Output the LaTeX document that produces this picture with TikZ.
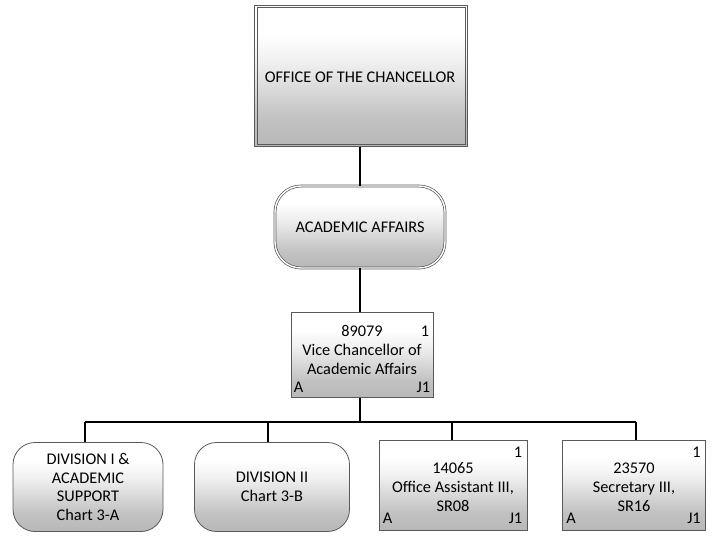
\documentclass[tikz,border=0pt]{standalone}
\usepackage{fontspec}
\setmainfont{Carlito}
\pgfdeclareverticalshading{boxgrey}{100bp}{color(0bp)=(black!38); color(35bp)=(black!24); color(55bp)=(black!6); color(65bp)=(white); color(100bp)=(white)}
\begin{document}
\begin{tikzpicture}[x=1pt,y=-1pt,
  every node/.style={font=\fontsize{16.3}{18.8}\selectfont, align=center, inner sep=0pt},
  boxbase/.style={shading=boxgrey, draw=black!65, line width=0.8pt},
  dblbox/.style={boxbase, double=white, double distance=1.4pt, line width=0.7pt},
  posbox/.style={boxbase},
  roundbox/.style={boxbase, rounded corners=22pt},
  corner/.style={font=\fontsize{16.3}{18}\selectfont, inner sep=0pt},
  frameline/.style={draw=black!65, line width=0.7pt},
  link/.style={line width=1.6pt, black}]
\useasboundingbox (0,0) rectangle (719,539);

\node[shading=boxgrey, minimum width=212pt, minimum height=141pt] (office) at (361,76) {};
\draw[frameline] (office.north west) rectangle (office.south east);
\draw[frameline] ([xshift=2.2pt,yshift=-2.2pt]office.north west) rectangle ([xshift=-2.2pt,yshift=2.2pt]office.south east);
\node (officetxt) at (360,77) {OFFICE OF THE CHANCELLOR};

\node[dblbox, rounded corners=26pt, minimum width=170pt, minimum height=82pt] (aa) at (360,227) {ACADEMIC AFFAIRS};

\node[posbox, minimum width=142pt, minimum height=85pt] (vc) at (362,355) {};
\node (vctxt) at (362,350) {89079\\Vice Chancellor of\\Academic Affairs};
\node[corner, anchor=north east] (vc1) at ([xshift=-4pt,yshift=-14pt]vc.north east) {1};
\node[corner, anchor=south west] (vcA) at ([xshift=3pt,yshift=5pt]vc.south west) {A};
\node[corner, anchor=south east] (vcJ) at ([xshift=-3pt,yshift=5pt]vc.south east) {J1};

\node[roundbox, minimum width=150pt, minimum height=89pt] (div1) at (88,487) {DIVISION I \&\\ACADEMIC\\SUPPORT\\Chart 3-A};
\node[roundbox, minimum width=155pt, minimum height=89pt] (div2) at (272,487) {DIVISION II\\Chart 3-B};

\node[posbox, minimum width=148pt, minimum height=90pt] (oa) at (453,485) {};
\node (oatxt) at (453,487) {14065\\Office Assistant III,\\SR08};
\node[corner, anchor=north east] (oa1) at ([xshift=-5pt,yshift=-7pt]oa.north east) {1};
\node[corner, anchor=south west] (oaA) at ([xshift=4pt,yshift=7pt]oa.south west) {A};
\node[corner, anchor=south east] (oaJ) at ([xshift=-5pt,yshift=7pt]oa.south east) {J1};

\node[posbox, minimum width=143pt, minimum height=90pt] (sec) at (634,485) {};
\node (sectxt) at (634,487) {23570\\Secretary III,\\SR16};
\node[corner, anchor=north east] (sec1) at ([xshift=-5pt,yshift=-7pt]sec.north east) {1};
\node[corner, anchor=south west] (secA) at ([xshift=4pt,yshift=7pt]sec.south west) {A};
\node[corner, anchor=south east] (secJ) at ([xshift=-5pt,yshift=7pt]sec.south east) {J1};

\coordinate (bus) at (360,422);
\coordinate (busL) at (85,422);
\coordinate (busR) at (636,422);
\draw[link] (office.south -| aa.north) -- (aa.north);
\draw[link] (aa.south) -- (aa.south |- vc.north);
\draw[link] (aa.south |- vc.south) -- (bus);
\draw[link] (busL) -- (busR);
\draw[link] (busL) -- (busL |- div1.north);
\draw[link] (div2.north -| 268,0) -- (bus -| 268,0);
\draw[link] (oa.north -| 452,0) -- (bus -| 452,0);
\draw[link] (busR) -- (busR |- sec.north);
\end{tikzpicture}
\end{document}
